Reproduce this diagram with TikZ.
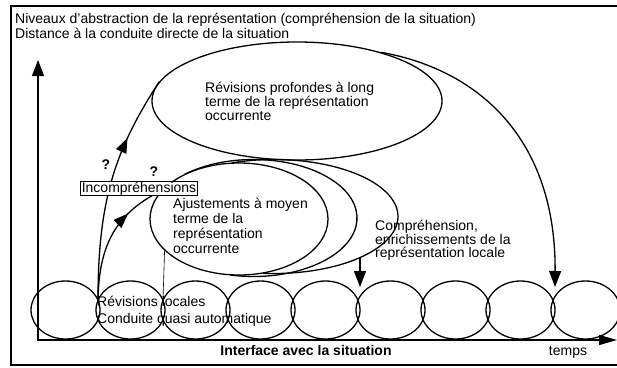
\documentclass[tikz,border=0pt]{standalone}
\usepackage{fontspec}
\setmainfont{Liberation Sans}
\usetikzlibrary{shapes.geometric,arrows.meta,decorations.markings}
\begin{document}
\begin{tikzpicture}[x=1pt,y=-1pt,
  line/.style={line width=1.3pt},
  thinline/.style={line width=0.6pt},
  txt/.style={font=\fontsize{14}{15}\selectfont, inner sep=0pt, align=left},
  boldtxt/.style={font=\fontsize{14}{15}\selectfont\bfseries, inner sep=0pt},
  ell/.style={ellipse, draw, line width=1.3pt, inner sep=0pt},
  bigtip/.style={-{Triangle[length=16pt,width=12pt]}},
  midarrow/.style={postaction={decorate}, decoration={markings, mark=at position #1 with {\arrow{Triangle[length=15pt,width=11pt]}}}},
]
\useasboundingbox (0,0) rectangle (617,367);
\fill[white] (0,0) rectangle (617,367);

% outer frame
\draw[line] (620,6) -- (11,6) -- (11,365) -- (620,365);

% header
\node[txt, anchor=west] (head) at (15,25.5) {Niveaux d'abstraction de la représentation (compréhension de la situation)\\Distance à la conduite directe de la situation};

% bubbles along the bottom
\foreach \i in {1,...,9}
  \node[ell, minimum width=69pt, minimum height=58pt] (c\i) at ({65.5+(\i-1)*65},310) {};

% time axis
\coordinate (b0) at (37,340);
\coordinate (b1) at (617,340);
\draw[line, -{Triangle[length=18pt,width=10pt]}] (b0) -- (b1);

% vertical axis
\coordinate (v0) at (38,340);
\coordinate (v1) at (38,60);
\draw[line, bigtip] (v0) -- (v1);

% big ellipse
\node[ell, minimum width=290pt, minimum height=118pt] (big) at (297,101) {};
\node[txt, anchor=west, font=\fontsize{14}{14}\selectfont] (bigtxt) at (205,101) {Révisions profondes à long\\terme de la représentation\\occurrente};

% medium ellipses
\node[ell, minimum width=178pt, minimum height=112pt] (mid) at (239,219) {};
\draw[line] ([shift={(228:103.5 and 58.5)}]253.5,218) arc[start angle=228, end angle=463, x radius=103.5, y radius=58.5];
\draw[line] ([shift={(250:124 and 57)}]274,216.5) arc[start angle=250, end angle=455, x radius=124, y radius=57];
\node[txt, anchor=west] (midtxt) at (173,226) {Ajustements à moyen\\terme de la\\représentation\\occurrente};

% junction points and arrow tips
\coordinate (j1) at (98,300);
\coordinate (j2) at (163,300);
\coordinate (s5) at (360,257);
\coordinate (t5) at (360,287);
\coordinate (t8) at (555,287);

% arrows from local revisions
\draw[line, midarrow=0.72] (j1) .. controls (98,200) and (115,150) .. (big.172);
\draw[line, midarrow=0.7] (j1) .. controls (99,250) and (112,215) .. (mid.160);
\draw[thinline] (mid.203) -- (j2);

% arrows down to the bubbles
\draw[line, bigtip] (s5) -- (t5);
\draw[line, bigtip] (big.30) .. controls (480,70) and (556,140) .. (t8);

% labels
\node[draw, line width=0.9pt, fill=white, font=\fontsize{14}{15}\selectfont, inner xsep=1pt, inner ysep=0.5pt] (inc) at (139,188.5) {Incompréhensions};
\node[boldtxt] (q1) at (106,165) {?};
\node[boldtxt] (q2) at (154,172) {?};
\node[txt, anchor=west, font=\fontsize{14}{13.5}\selectfont] (comp) at (375,240.5) {Compréhension,\\enrichissements de la\\représentation locale};
\node[txt, anchor=west, font=\fontsize{14}{17}\selectfont] (rev) at (97,311.5) {Révisions locales\\Conduite quasi automatique};
\node[boldtxt] (iface) at (306,350) {Interface avec la situation};
\node[txt] (temps) at (568,352) {temps};
\end{tikzpicture}
\end{document}
